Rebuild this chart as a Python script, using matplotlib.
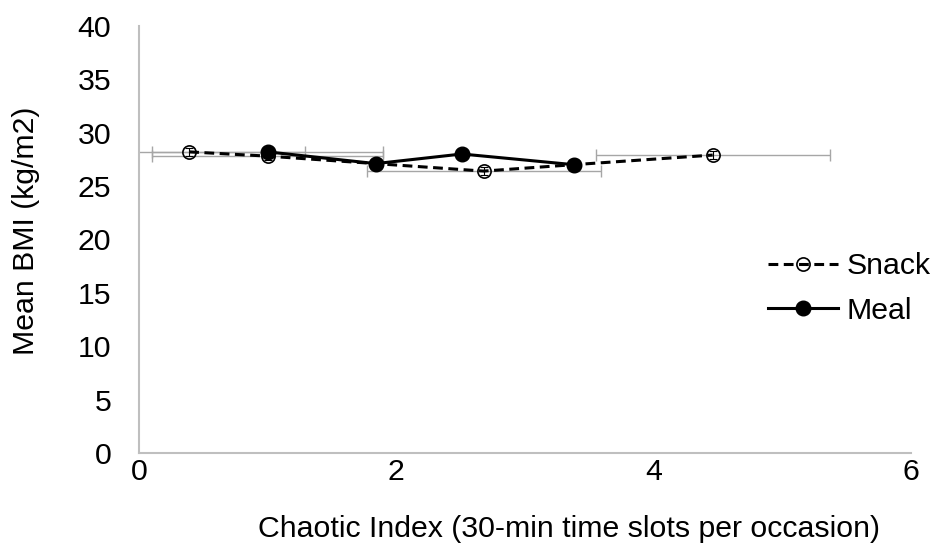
import matplotlib
matplotlib.use("Agg")
import matplotlib.pyplot as plt

plt.rcParams['font.family'] = ['Liberation Sans', 'DejaVu Sans']

snack_x = [0.39, 1.00, 1.84, 2.68, 3.38, 4.46]
snack_y = [28.2, 27.8, 27.1, 26.4, 27.0, 27.9]
snack_xerr = [0.90, 0.90, 0.0, 0.91, 0.0, 0.91]
snack_yerr = [0.4, 0.4, 0.4, 0.4, 0.4, 0.4]

meal_x = [1.00, 1.84, 2.51, 3.38]
meal_y = [28.2, 27.1, 28.0, 27.0]
meal_xerr = [0.90, 0.0, 0.0, 0.0]

x_ticks = [0, 2, 4, 6]
y_ticks = [0, 5, 10, 15, 20, 25, 30, 35, 40]

FS = 21.8

fig = plt.figure(figsize=(9.36, 5.51), dpi=100)
ax = fig.add_axes([0.1485, 0.178, 0.8245, 0.775])

grey = '#a6a6a6'
ax.errorbar(snack_x, snack_y, xerr=snack_xerr, fmt='none',
            ecolor=grey, elinewidth=1, capsize=4, capthick=1, zorder=2)
ax.errorbar(meal_x, meal_y, xerr=meal_xerr, fmt='none',
            ecolor=grey, elinewidth=1, capsize=4, capthick=1, zorder=2)

ax.plot(snack_x, snack_y, linestyle=(0, (3.2, 1.8)), color='black', linewidth=2.2,
        marker='o', markersize=9.5, markerfacecolor='none', markeredgecolor='black',
        markeredgewidth=1.2, label='Snack', zorder=3)
ax.plot(meal_x, meal_y, linestyle='-', color='black', linewidth=2.2,
        marker='o', markersize=10.5, markerfacecolor='black', markeredgecolor='black',
        label='Meal', zorder=4)
# small vertical error bars drawn inside the open snack markers
ax.errorbar(snack_x, snack_y, yerr=snack_yerr, fmt='none',
            ecolor='black', elinewidth=0.8, capsize=3, capthick=0.8, zorder=3.5)

ax.set_xlim(0, 6)
ax.set_ylim(0, 40)
ax.set_xticks(x_ticks)
ax.set_yticks(y_ticks)
ax.tick_params(axis='both', length=0, labelsize=FS)
ax.tick_params(axis='y', pad=20)
ax.tick_params(axis='x', pad=4)
for s in ['top', 'right']:
    ax.spines[s].set_visible(False)
for s in ['left', 'bottom']:
    ax.spines[s].set_color('#bfbfbf')
    ax.spines[s].set_linewidth(1.5)

ax.set_xlabel('Chaotic Index (30-min time slots per occasion)', fontsize=FS)
ax.xaxis.set_label_coords(0.557, -0.145)
ax.set_ylabel('Mean BMI (kg/m2)', fontsize=FS)
ax.yaxis.set_label_coords(-0.128, 0.52)

leg = ax.legend(loc='center left', bbox_to_anchor=(0.815, 0.385), frameon=False,
                fontsize=FS, handlelength=2.3, numpoints=1, handletextpad=0.3,
                labelspacing=0.55, borderaxespad=0, borderpad=0)

fig.savefig('out.png', dpi=100)
